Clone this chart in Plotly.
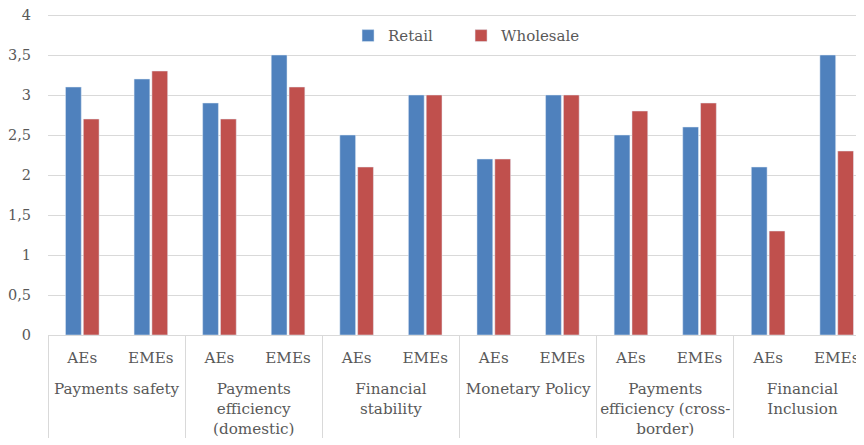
import plotly.graph_objects as go

groups = ["<br>Payments safety", "<br>Payments<br>efficiency<br>(domestic)", "<br>Financial<br>stability",
          "<br>Monetary Policy", "<br>Payments<br>efficiency (cross-<br>border)", "<br>Financial<br>Inclusion"]
subcats = ["AEs", "EMEs"]
retail = [3.1, 3.2, 2.9, 3.5, 2.5, 3.0, 2.2, 3.0, 2.5, 2.6, 2.1, 3.5]
wholesale = [2.7, 3.3, 2.7, 3.1, 2.1, 3.0, 2.2, 3.0, 2.8, 2.9, 1.3, 2.3]
y_ticks = [0, 0.5, 1, 1.5, 2, 2.5, 3, 3.5, 4]

lvl1 = [g for g in groups for _ in subcats]
lvl2 = [s for _ in groups for s in subcats]

FONT = "DejaVu Serif, Liberation Serif, serif"
GRAY = "#595959"

fig = go.Figure()
fig.add_trace(go.Bar(x=[lvl1, lvl2], y=retail, name="Retail", marker_color="#4F81BD", legend="legend"))
fig.add_trace(go.Bar(x=[lvl1, lvl2], y=wholesale, name="Wholesale", marker_color="#C0504D", legend="legend2"))

fig.add_shape(type="rect", xref="paper", yref="paper", x0=0.327, x1=0.707, y0=0.86, y1=1.03,
              fillcolor="white", line_width=0, layer="between")

leg_common = dict(orientation="h", xanchor="left", y=0.929, yanchor="middle",
                  bgcolor="rgba(0,0,0,0)", font=dict(family=FONT, size=15, color=GRAY),
                  itemwidth=30)

fig.update_layout(
    width=856, height=437,
    margin=dict(l=40, r=0, t=5, b=110),
    paper_bgcolor="white", plot_bgcolor="white",
    separators=",.",
    barmode="group", bargap=0.48, bargroupgap=0.115,
    font=dict(family=FONT, size=15, color=GRAY),
    showlegend=True,
    legend=dict(x=0.3677, **leg_common),
    legend2=dict(x=0.5062, **leg_common),
    xaxis=dict(type="multicategory", range=[-0.5, 11.398],
               showline=True, linecolor="#D9D9D9", linewidth=1,
               showdividers=True, dividercolor="#D9D9D9", dividerwidth=1, automargin=False,
               ticklabelstandoff=9,
               tickfont=dict(family=FONT, size=15.2, color=GRAY), showgrid=False),
    yaxis=dict(range=[0, 4.025], tickvals=y_ticks, showgrid=True, gridcolor="#D9D9D9",
               gridwidth=1, zeroline=False, showline=False, automargin=False,
               ticklabeloverflow="allow",
               tickfont=dict(family=FONT, size=14.5, color=GRAY), ticklabelstandoff=16),
)

fig.write_html("out.html")
